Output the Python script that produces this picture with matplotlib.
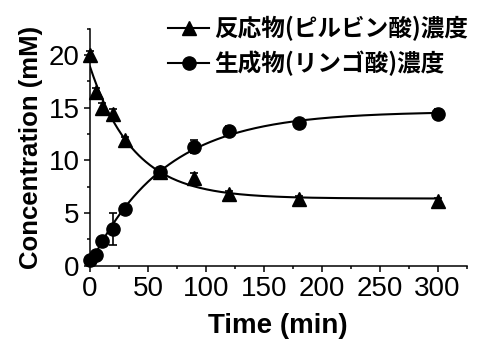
import numpy as np
import matplotlib
matplotlib.use("Agg")
import matplotlib.pyplot as plt
from matplotlib.ticker import MultipleLocator

# data
time = [0, 5, 10, 20, 30, 60, 90, 120, 180, 300]
pyruvate = [20.0, 16.5, 15.0, 14.4, 11.9, 8.9, 8.3, 6.8, 6.3, 6.1]
pyruvate_err = [0.4, 0.4, 0.4, 0.5, 0.3, 0.3, 0.5, 0.3, 0.3, 0.3]
malate = [0.5, 1.0, 2.3, 3.5, 5.4, 8.9, 11.3, 12.8, 13.5, 14.4]
malate_err = [0.3, 0.3, 0.3, 1.5, 0.4, 0.3, 0.6, 0.5, 0.4, 0.5]

label_sub = "反応物(ピルビン酸)濃度"
label_prod = "生成物(リンゴ酸)濃度"


def fit_exp(t, y):
    # y = a + b*exp(-k t), least squares on a grid of k
    t = np.asarray(t, float)
    y = np.asarray(y, float)
    best = None
    for k in np.linspace(0.001, 0.3, 3000):
        A = np.column_stack([np.ones_like(t), np.exp(-k * t)])
        coef, res, _, _ = np.linalg.lstsq(A, y, rcond=None)
        sse = np.sum((A @ coef - y) ** 2)
        if best is None or sse < best[0]:
            best = (sse, k, coef)
    return best[1], best[2]


plt.rcParams['font.family'] = ['Liberation Sans', 'DejaVu Sans']

fig = plt.figure(figsize=(5, 3.59), dpi=100)
ax = fig.add_axes([0.18, 0.26, 0.753, 0.66])

tt = np.linspace(0, 300, 400)
for y, err, m, ms in [(pyruvate, pyruvate_err, '^', 9.5), (malate, malate_err, 'o', 9.5)]:
    k, c = fit_exp(time, y)
    ax.plot(tt, c[0] + c[1] * np.exp(-k * tt), color='black', lw=1.5, zorder=2)
    ax.errorbar(time, y, yerr=err, fmt=m, color='black', ms=ms, capsize=3,
                elinewidth=1.2, capthick=1.2, zorder=3, clip_on=False)

ax.set_xlim(0, 325)
ax.set_ylim(0, 22.5)
ax.xaxis.set_major_locator(MultipleLocator(50))
ax.xaxis.set_minor_locator(MultipleLocator(25))
ax.yaxis.set_major_locator(MultipleLocator(5))
ax.yaxis.set_minor_locator(MultipleLocator(2.5))
ax.spines['top'].set_visible(False)
ax.spines['right'].set_visible(False)
for s in ['left', 'bottom']:
    ax.spines[s].set_linewidth(1.1)
ax.tick_params(which='major', length=4, width=1.1, labelsize=20, direction='out')
ax.tick_params(which='minor', length=2.5, width=1.1, direction='out')

ax.set_xlabel("Time (min)", fontsize=20, fontweight='bold', labelpad=8)
ax.set_ylabel("Concentration (mM)", fontsize=18.5, fontweight='bold', labelpad=4)

# legend handles: line-marker-line
h1, = ax.plot([], [], color='black', marker='^', ms=9.5, lw=1.5)
h2, = ax.plot([], [], color='black', marker='o', ms=9.5, lw=1.5)
leg = ax.legend([h1, h2], [label_sub, label_prod], loc='upper left',
                bbox_to_anchor=(0.207, 1.055), frameon=False, handlelength=1.75,
                handletextpad=0.2, labelspacing=0.42, borderpad=0, borderaxespad=0,
                prop={'family': ['Noto Sans CJK JP', 'DejaVu Sans'],
                      'weight': 'bold', 'size': 17})

fig.savefig("out.png", dpi=100)
